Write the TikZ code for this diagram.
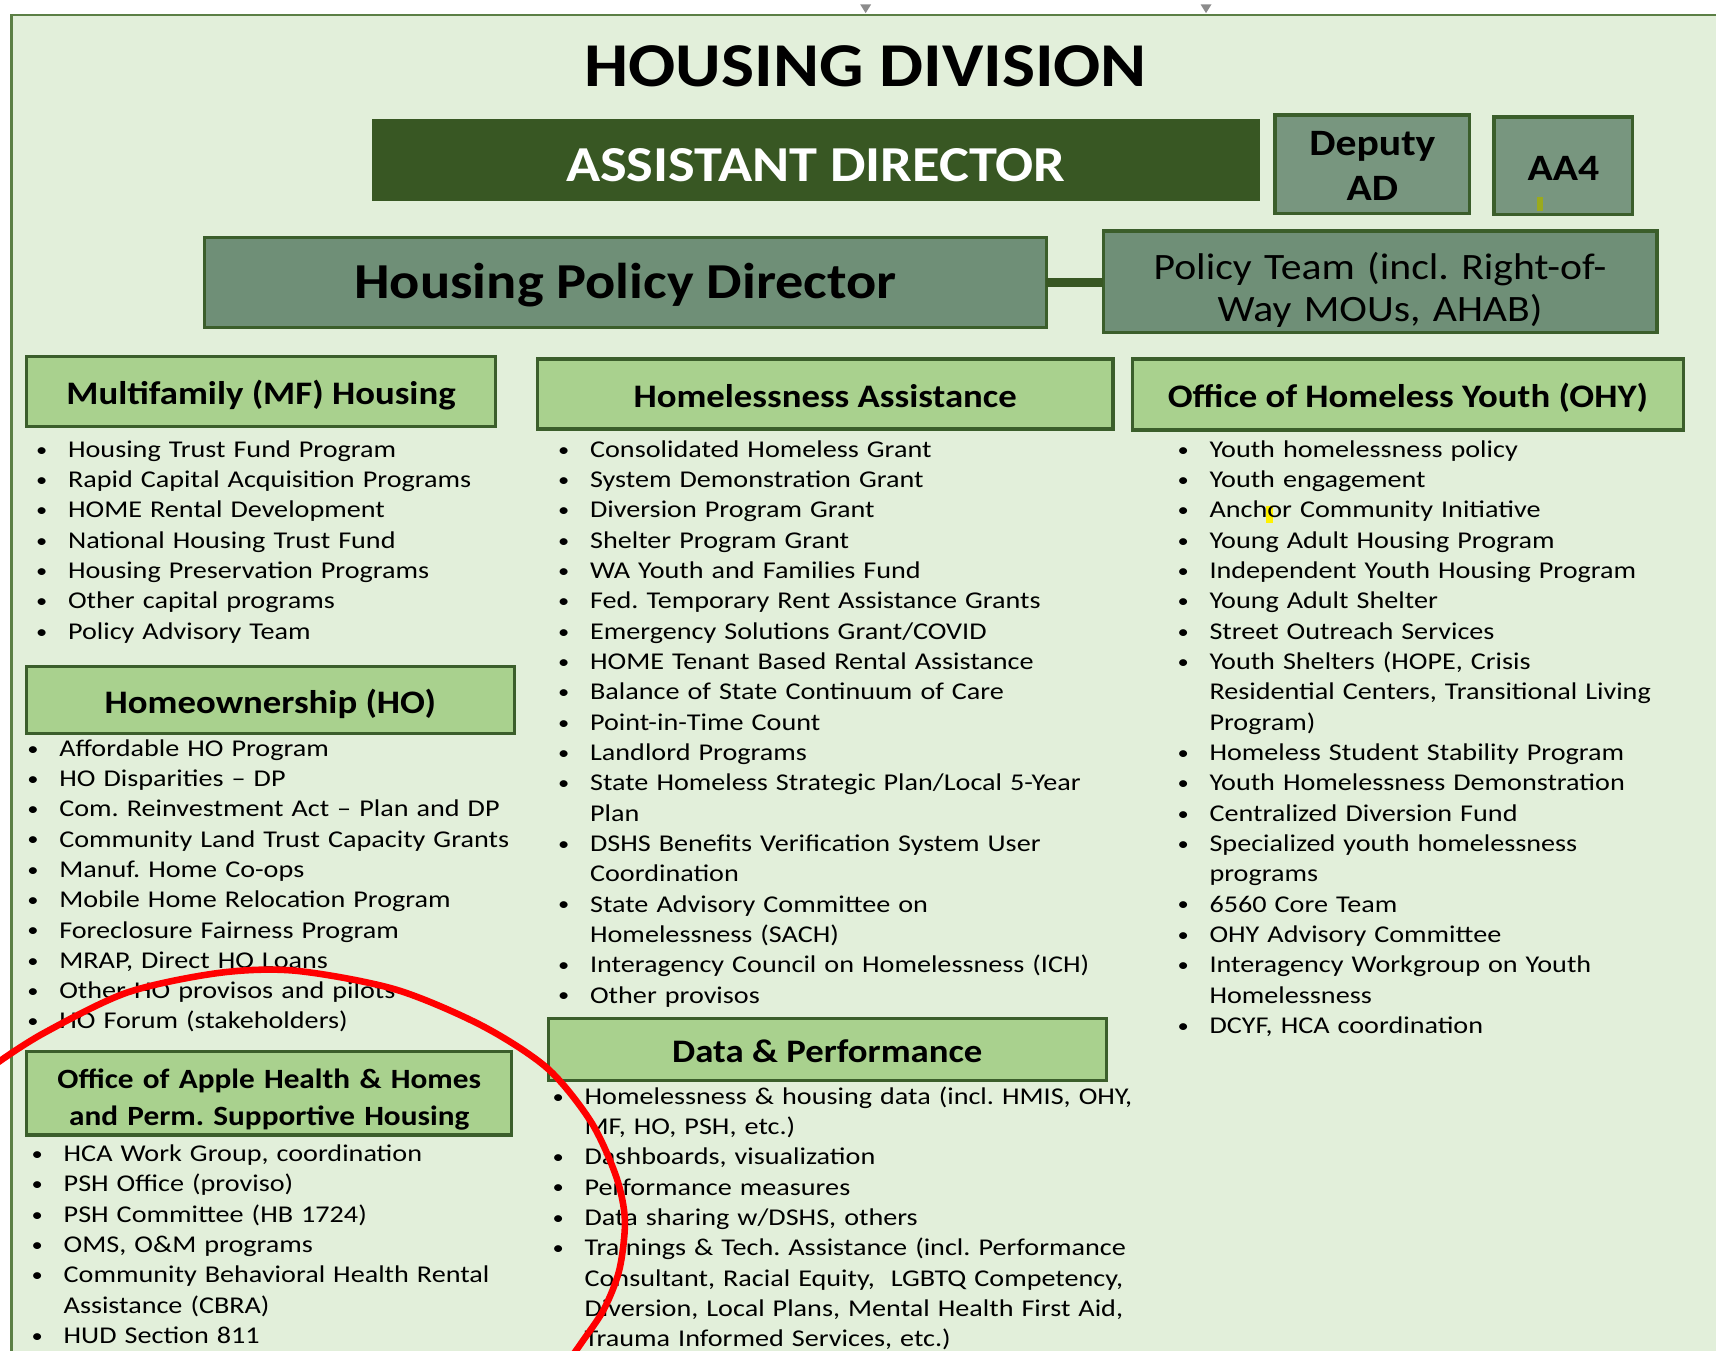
\documentclass[tikz,border=0pt]{standalone}
\usepackage{fontspec}
\usepackage{graphicx}
\setmainfont{Carlito}
\newfontfamily\bodyfont{Carlito}[FakeStretch=1.17]
\newfontfamily\headfont{Carlito}[FakeStretch=1.12]
\definecolor{bg}{HTML}{E2EFDA}
\definecolor{hdrfill}{HTML}{A9D18E}
\definecolor{dkgreen}{HTML}{385723}
\definecolor{graygreen}{HTML}{6F8F77}
\definecolor{lightgraygreen}{HTML}{78967F}
\definecolor{framecol}{HTML}{5B7F45}
\definecolor{bordercol}{HTML}{3B5E2B}
\definecolor{markcol}{HTML}{9AAA1E}
\definecolor{tricol}{HTML}{8C8C8C}
\newcommand\bitem[1]{\par\noindent\hangindent=30pt\hangafter=1\makebox[30pt][l]{\hspace{0.8pt}\raisebox{1pt}{\scalebox{0.8}{\textbullet}}}\strut#1}
\tikzset{
  box/.style={draw=bordercol, line width=3pt, inner sep=0pt, outer sep=0pt, anchor=north west},
  hdrbox/.style={box, fill=hdrfill, font=\headfont\bfseries\fontsize{30}{36}\selectfont, text height=24pt, text depth=0pt},
  greybox/.style={box, fill=graygreen},
  smallgreybox/.style={box, fill=lightgraygreen},
  listtext/.style={anchor=north west, inner sep=0pt, text width=640pt, align=left, font=\bodyfont\fontsize{22}{27.7}\selectfont},
  boxlabel/.style={anchor=north, inner sep=0pt, align=center},
  circlemark/.style={red, line width=6pt, line cap=round}
}
\begin{document}
\frenchspacing
\begin{tikzpicture}[x=1pt,y=-1pt]
\useasboundingbox (0,0) rectangle (1568,1234);
\clip (0,0) rectangle (1568,1234);
% frame
\draw[framecol, line width=2.5pt, fill=bg] (10.5,13.7) rectangle (1620,1300);
\fill[tricol] (786,4) -- (796,4) -- (791,12) -- cycle;
\fill[tricol] (1097,4) -- (1107,4) -- (1102,12) -- cycle;
% title
\node[anchor=base, inner sep=0pt, font=\headfont\bfseries\fontsize{57}{60}\selectfont] (title) at (791,79) {HOUSING DIVISION};
% top boxes
\node[box, draw=dkgreen, fill=dkgreen, minimum width=809pt, minimum height=71.5pt, text=white,
  font=\headfont\bfseries\fontsize{46}{50}\selectfont, text height=39.1pt, text depth=0pt] (ad) at (341,110.5) {ASSISTANT DIRECTOR};
\node[smallgreybox, minimum width=178pt, minimum height=90pt] (dep) at (1165,105) {};
\node[boxlabel, text width=170pt, font=\headfont\bfseries\fontsize{34}{41}\selectfont] (dep-t) at (1254,113.3) {\strut Deputy\\AD};
\node[smallgreybox, minimum width=127pt, minimum height=89pt, font=\headfont\bfseries\fontsize{34}{40}\selectfont, text height=26.5pt, text depth=0pt] (aa4) at (1365,107) {AA4};
\fill[markcol] (1404,180) rectangle (1410,193);
% policy row
\node[greybox, minimum width=769pt, minimum height=82pt, font=\headfont\bfseries\fontsize{46}{50}\selectfont, text height=29.1pt, text depth=0pt] (hpd) at (187,217) {Housing Policy Director};
\node[greybox, minimum width=506pt, minimum height=93pt] (pt) at (1008,211) {};
\node[boxlabel, text width=500pt, font=\headfont\fontsize{34}{39}\selectfont] (pt-t) at (1261,227.7) {\strut Policy Team (incl. Right-of-\\Way MOUs, AHAB)};
\draw[dkgreen, line width=8pt] (hpd.east) -- (hpd.east -| pt.west);
% section headers
\node[hdrbox, minimum width=429pt, minimum height=64pt] (mf) at (24,326) {Multifamily (MF) Housing};
\node[hdrbox, minimum width=526pt, minimum height=64pt] (ha) at (491,328) {Homelessness Assistance};
\node[hdrbox, minimum width=503pt, minimum height=65pt] (ohy) at (1035,328) {Office of Homeless Youth (OHY)};
\node[hdrbox, minimum width=446pt, minimum height=61pt] (ho) at (24,609) {Homeownership (HO)};
\node[hdrbox, minimum width=510pt, minimum height=57pt] (dp) at (501,930.5) {Data \& Performance};
\node[box, fill=hdrfill, minimum width=443.5pt, minimum height=76pt] (oahh) at (24,961) {};
\node[boxlabel, text width=440pt, font=\headfont\bfseries\fontsize{25.5}{33.5}\selectfont] (oahh-t) at (246,971) {\strut Office of Apple Health \& Homes\\and Perm. Supportive Housing};
% highlight mark
\fill[yellow] (1157,462) rectangle (1163,478);
% lists
\node[listtext] (mf-l) at (32,390) {%
\bitem{Housing Trust Fund Program}
\bitem{Rapid Capital Acquisition Programs}
\bitem{HOME Rental Development}
\bitem{National Housing Trust Fund}
\bitem{Housing Preservation Programs}
\bitem{Other capital programs}
\bitem{Policy Advisory Team}\par};
\node[listtext] (ho-l) at (24,663) {%
\bitem{Affordable HO Program}
\bitem{HO Disparities – DP}
\bitem{Com. Reinvestment Act – Plan and DP}
\bitem{Community Land Trust Capacity Grants}
\bitem{Manuf. Home Co-ops}
\bitem{Mobile Home Relocation Program}
\bitem{Foreclosure Fairness Program}
\bitem{MRAP, Direct HO Loans}
\bitem{Other HO provisos and pilots}
\bitem{HO Forum (stakeholders)}\par};
\node[listtext] (oahh-l) at (28,1033.5) {%
\bitem{HCA Work Group, coordination}
\bitem{PSH Office (proviso)}
\bitem{PSH Committee (HB 1724)}
\bitem{OMS, O\&M programs}
\bitem{Community Behavioral Health Rental\newline Assistance (CBRA)}
\bitem{HUD Section 811}\par};
\node[listtext] (ha-l) at (509,390) {%
\bitem{Consolidated Homeless Grant}
\bitem{System Demonstration Grant}
\bitem{Diversion Program Grant}
\bitem{Shelter Program Grant}
\bitem{WA Youth and Families Fund}
\bitem{Fed. Temporary Rent Assistance Grants}
\bitem{Emergency Solutions Grant/COVID}
\bitem{HOME Tenant Based Rental Assistance}
\bitem{Balance of State Continuum of Care}
\bitem{Point-in-Time Count}
\bitem{Landlord Programs}
\bitem{State Homeless Strategic Plan/Local 5-Year\newline Plan}
\bitem{DSHS Benefits Verification System User\newline Coordination}
\bitem{State Advisory Committee on\newline Homelessness (SACH)}
\bitem{Interagency Council on Homelessness (ICH)}
\bitem{Other provisos}\par};
\node[listtext] (dp-l) at (504,981) {%
\bitem{Homelessness \& housing data (incl. HMIS, OHY,\newline MF, HO, PSH, etc.)}
\bitem{Dashboards, visualization}
\bitem{Performance measures}
\bitem{Data sharing w/DSHS, others}
\bitem{Trainings \& Tech. Assistance (incl. Performance\newline Consultant, Racial Equity,\ \ LGBTQ Competency,\newline Diversion, Local Plans, Mental Health First Aid,\newline Trauma Informed Services, etc.)}\par};
\node[listtext] (ohy-l) at (1075,390) {%
\bitem{Youth homelessness policy}
\bitem{Youth engagement}
\bitem{Anchor Community Initiative}
\bitem{Young Adult Housing Program}
\bitem{Independent Youth Housing Program}
\bitem{Young Adult Shelter}
\bitem{Street Outreach Services}
\bitem{Youth Shelters (HOPE, Crisis\newline Residential Centers, Transitional Living\newline Program)}
\bitem{Homeless Student Stability Program}
\bitem{Youth Homelessness Demonstration}
\bitem{Centralized Diversion Fund}
\bitem{Specialized youth homelessness\newline programs}
\bitem{6560 Core Team}
\bitem{OHY Advisory Committee}
\bitem{Interagency Workgroup on Youth\newline Homelessness}
\bitem{DCYF, HCA coordination}\par};
% red circle mark
\draw[circlemark] plot[smooth] coordinates {(-10,980) (-5,973) (40,944) (116,907) (200,889) (270,887) (361,904) (440,937) (500,976) (540,1025) (563,1075) (571,1115) (566,1160) (552,1196) (532,1226) (515,1250)};
\end{tikzpicture}
\end{document}
